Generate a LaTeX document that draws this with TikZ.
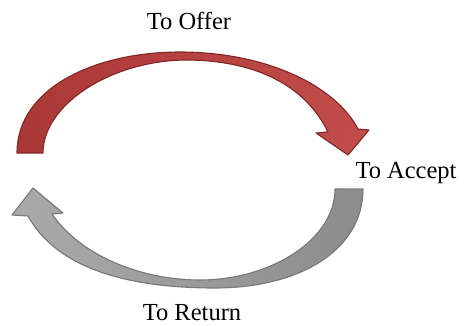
\documentclass[tikz,border=0pt]{standalone}
\usepackage{fontspec}
\setmainfont{Liberation Serif}
\definecolor{redleft}{RGB}{170,56,54}
\definecolor{redright}{RGB}{194,78,75}
\definecolor{redline}{RGB}{130,38,38}
\definecolor{grayleft}{RGB}{170,170,170}
\definecolor{grayright}{RGB}{140,140,140}
\definecolor{grayline}{RGB}{120,120,120}
\tikzset{
  redarrow/.style={left color=redleft, right color=redright, draw=redline, line width=1.1pt, line join=round},
  grayarrow/.style={left color=grayleft, right color=grayright, draw=grayline, line width=1.1pt, line join=round},
  lbl/.style={anchor=base, inner sep=0pt, font=\fontsize{24.5}{28}\selectfont}
}
\begin{document}
\begin{tikzpicture}[x=1pt, y=-1pt]
\useasboundingbox (0,0) rectangle (464,325);
% red arrow (To Offer)
\path[redarrow]
  (17,153) -- (43,153)
  .. controls (43,105) and (110,61) .. (185,60)
  .. controls (255,60) and (305,85) .. (328,132)
  -- (316,133) -- (348,155) -- (369,130) -- (358,129)
  .. controls (335,85) and (265,52) .. (180,52)
  .. controls (95,52) and (17,88) .. (17,153) -- cycle;
% gray arrow (To Return)
\path[grayarrow]
  (363,189) -- (335,189)
  .. controls (335,240) and (270,280) .. (200,280)
  .. controls (140,280) and (80,255) .. (52,214)
  -- (63,213) -- (33,188) -- (12,215) -- (28,216)
  .. controls (55,265) and (120,288) .. (215,288)
  .. controls (300,288) and (363,250) .. (363,189) -- cycle;
\node[lbl] (offer) at (189,29) {To Offer};
\node[lbl] (accept) at (406,178) {To Accept};
\node[lbl] (return) at (192,320) {To Return};
\end{tikzpicture}
\end{document}
